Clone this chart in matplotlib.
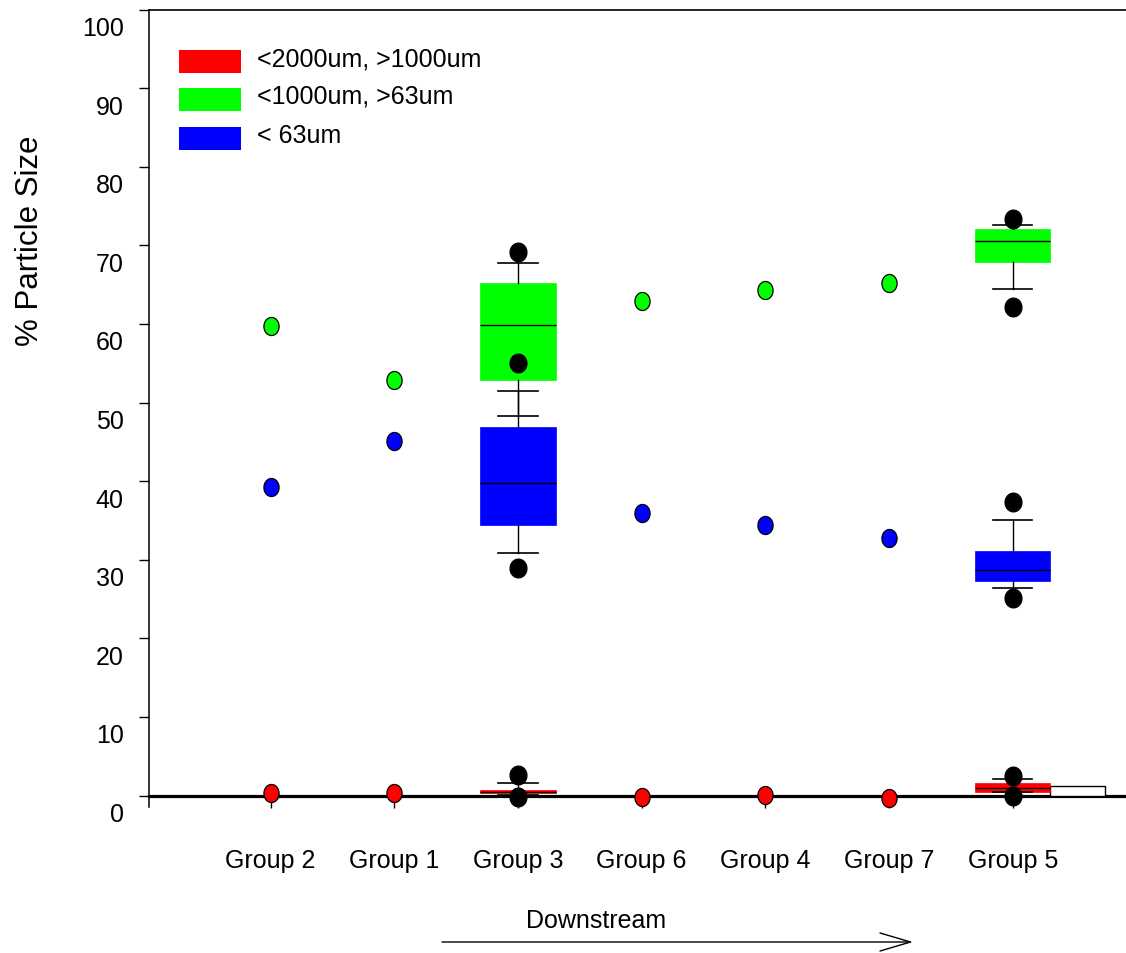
import numpy as np
import matplotlib
matplotlib.use("Agg")
import matplotlib.pyplot as plt
from matplotlib.path import Path
from matplotlib.patches import Rectangle
from matplotlib.transforms import ScaledTranslation

plt.rcParams['font.family'] = ['Liberation Sans', 'DejaVu Sans']

# ---- data -------------------------------------------------------------
groups = ["Group 2", "Group 1", "Group 3", "Group 6", "Group 4", "Group 7", "Group 5"]
series_labels = ["<2000um, >1000um", "<1000um, >63um", "< 63um"]
series_colors = ["#ff0000", "#00ff00", "#0000ff"]

# groups with a single sample (shown as points)
single_groups = ["Group 2", "Group 1", "Group 6", "Group 4", "Group 7"]
coarse_single = [0.3, 0.3, -0.15, 0.1, -0.35]
sand_single = [59.7, 52.9, 62.9, 64.3, 65.2]
fines_single = [39.3, 45.1, 35.9, 34.4, 32.8]

# groups with several samples (shown as box plots)
box_groups = ["Group 3", "Group 5"]

coarse_q1 = [0.36, 0.5]
coarse_med = [0.5, 0.95]
coarse_q3 = [0.7, 1.6]
coarse_lo = [0.1, 0.45]
coarse_hi = [1.6, 2.1]
coarse_out = [[2.6, -0.2], [2.5, -0.1]]

sand_q1 = [52.8, 67.9]
sand_med = [59.9, 70.5]
sand_q3 = [65.2, 72.1]
sand_lo = [48.3, 64.5]
sand_hi = [67.8, 72.6]
sand_out = [[69.1], [73.3, 62.2]]

fines_q1 = [34.4, 27.3]
fines_med = [39.8, 28.7]
fines_q3 = [46.9, 31.1]
fines_lo = [30.8, 26.4]
fines_hi = [51.4, 35.1]
fines_out = [[28.9, 55.0], [37.4, 25.1]]

# empty outline box beside the Group 5 coarse box
outline_group = "Group 5"
outline_height = 1.2

yticks = [0, 10, 20, 30, 40, 50, 60, 70, 80, 90, 100]

# ---- figure -----------------------------------------------------------
W, H = 1126, 954
fig = plt.figure(figsize=(W / 100, H / 100), dpi=100)


def fx(x):
    return x / W


def fy(y):
    return 1 - y / H


ax_left, ax_right, ax_top, ax_bottom = 148.5, 1126, 10.5, 807.5
ax = fig.add_axes([fx(ax_left), fy(ax_bottom), fx(ax_right - ax_left),
                   (ax_bottom - ax_top) / H])

pos = {g: i + 1 for i, g in enumerate(groups)}
x_lo = 1 + (ax_left - 270.5) / 123.7
x_hi = 1 + (ax_right - 270.5) / 123.7
ax.set_xlim(x_lo, x_hi)
ax.set_ylim(-(ax_bottom - 796.5) / 7.86, 100)


def ellipse_marker(rx, ry, n=60):
    t = np.linspace(0, 2 * np.pi, n)
    verts = np.column_stack([rx * np.cos(t), ry * np.sin(t)])
    return Path(verts, closed=True)


dot = ellipse_marker(0.42, 0.5)
blob = ellipse_marker(0.45, 0.5)

box_w = 0.61
cap_w = 0.32
fs = 18


def stats(q1, med, q3, lo, hi, out):
    return [dict(q1=a, med=b, q3=c, whislo=d, whishi=e, fliers=f)
            for a, b, c, d, e, f in zip(q1, med, q3, lo, hi, out)]


box_series = [
    (stats(fines_q1, fines_med, fines_q3, fines_lo, fines_hi, fines_out), series_colors[2]),
    (stats(sand_q1, sand_med, sand_q3, sand_lo, sand_hi, sand_out), series_colors[1]),
    (stats(coarse_q1, coarse_med, coarse_q3, coarse_lo, coarse_hi, coarse_out), series_colors[0]),
]
box_pos = [pos[g] for g in box_groups]

for st, col in box_series:
    ax.bxp(st, positions=box_pos, widths=box_w, capwidths=cap_w,
           patch_artist=True, showfliers=True,
           boxprops=dict(facecolor=col, edgecolor=col, linewidth=0.5),
           medianprops=dict(color="black", linewidth=1.0),
           whiskerprops=dict(color="black", linewidth=1.0),
           capprops=dict(color="black", linewidth=1.2),
           flierprops=dict(marker=blob, markerfacecolor="black",
                           markeredgecolor="black", markersize=13.4,
                           linestyle="none", zorder=6),
           zorder=3, manage_ticks=False)

# outline box next to the Group 5 coarse box
ax.add_patch(Rectangle((pos[outline_group] + box_w / 2, 0), 0.445, outline_height,
                       facecolor="white", edgecolor="black", linewidth=1.0, zorder=2.8))

# single-sample groups
sx = [pos[g] for g in single_groups]
for vals, col in zip([fines_single, sand_single, coarse_single],
                     [series_colors[2], series_colors[1], series_colors[0]]):
    ax.plot(sx, vals, linestyle="none", marker=dot, markersize=13.0,
            markerfacecolor=col, markeredgecolor="black", markeredgewidth=0.9,
            zorder=5, clip_on=False)

# ---- axes styling -----------------------------------------------------
ax.spines["right"].set_visible(False)
ax.spines["bottom"].set_position(("data", 0))
ax.spines["bottom"].set_linewidth(2.3)
ax.spines["bottom"].set_zorder(2.5)
ax.spines["left"].set_linewidth(1.1)
ax.spines["top"].set_linewidth(1.2)

ax.set_xticks([pos[g] for g in groups])
ax.set_xticklabels(groups)
ax.set_yticks(yticks)
ax.set_yticklabels([str(v) for v in yticks])
ax.tick_params(axis="x", direction="out", length=8.6, width=1.0, pad=29, labelsize=fs)
ax.tick_params(axis="y", direction="out", length=7.2, width=1.0, pad=10.6, labelsize=fs)

shift = ScaledTranslation(0, -0.16, fig.dpi_scale_trans)
for lab in ax.get_yticklabels():
    lab.set_transform(lab.get_transform() + shift)

fig.text(fx(30), fy(241), "% Particle Size", rotation=90, ha="center", va="center",
         fontsize=22.5)

# ---- legend -----------------------------------------------------------
legend_tops = [51, 89, 127.7]
for top, col, lab in zip(legend_tops, series_colors, series_labels):
    fig.patches.append(Rectangle((fx(179), fy(top + 23)), fx(62), 23 / H,
                                 facecolor=col, edgecolor="none",
                                 transform=fig.transFigure, figure=fig))
    fig.text(fx(257), fy(top + 8), lab, ha="left", va="center", fontsize=fs)

# ---- flow direction ---------------------------------------------------
fig.text(fx(596), fy(921), "Downstream", ha="center", va="center", fontsize=fs)
ax.annotate("", xy=(fx(913), fy(943)), xytext=(fx(442), fy(943)),
            xycoords="figure fraction", textcoords="figure fraction",
            arrowprops=dict(arrowstyle="->,head_length=2.2,head_width=0.65",
                            mutation_scale=10, lw=1.0, color="black",
                            shrinkA=0, shrinkB=0))

fig.savefig("out.png", dpi=100)
